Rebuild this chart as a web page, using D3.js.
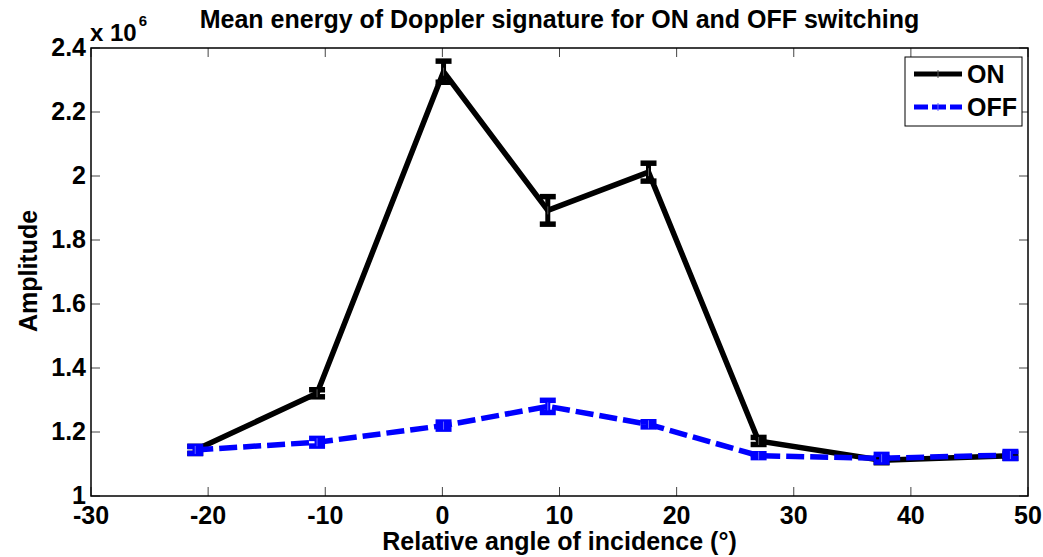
<!DOCTYPE html>
<html>
<head>
<meta charset="utf-8">
<script src="https://cdn.jsdelivr.net/npm/d3@7"></script>
<style>
  body { margin: 0; background: #fff; }
  svg text { font-family: "Liberation Sans", Arial, sans-serif; font-weight: bold; fill: #000; }
</style>
</head>
<body>
<svg id="chart" width="1043" height="557"></svg>
<script>
// ---- data ----
const angles = [-21.1, -10.7, 0.1, 9.0, 17.6, 27.0, 37.5, 48.5];
const onMean = [1.144, 1.321, 2.326, 1.8925, 2.012, 1.172, 1.112, 1.126];
const onErr  = [0.011, 0.011, 0.033, 0.043, 0.028, 0.011, 0.008, 0.008];
const offMean = [1.144, 1.168, 1.220, 1.280, 1.224, 1.126, 1.118, 1.128];
const offErr  = [0.011, 0.012, 0.011, 0.019, 0.008, 0.006, 0.012, 0.011];
const xTicks = [-30, -20, -10, 0, 10, 20, 30, 40, 50];
const yTicks = [1, 1.2, 1.4, 1.6, 1.8, 2, 2.2, 2.4];
const seriesNames = ["ON", "OFF"];
const titleText = "Mean energy of Doppler signature for ON and OFF switching";
const xLabelText = "Relative angle of incidence (°)";
const yLabelText = "Amplitude";

// ---- layout ----
const svg = d3.select("#chart");
const L = 91, R = 1028, T = 48, B = 496;
const x = d3.scaleLinear().domain([-30, 50]).range([L, R]);
const y = d3.scaleLinear().domain([1, 2.4]).range([B, T]);
const fs = 25;

// ticks (inner, all four sides)
const tickLen = 9;
const g = svg.append("g");
xTicks.forEach(t => {
  g.append("line").attr("x1", x(t)).attr("x2", x(t)).attr("y1", B).attr("y2", B - tickLen)
    .attr("stroke", "#444").attr("stroke-width", 1);
  g.append("line").attr("x1", x(t)).attr("x2", x(t)).attr("y1", T).attr("y2", T + tickLen)
    .attr("stroke", "#444").attr("stroke-width", 1);
  g.append("text").attr("x", x(t)).attr("y", 524).attr("text-anchor", "middle")
    .attr("font-size", fs).text(t);
});
yTicks.forEach(t => {
  g.append("line").attr("x1", L).attr("x2", L + tickLen).attr("y1", y(t)).attr("y2", y(t))
    .attr("stroke", "#444").attr("stroke-width", 1);
  g.append("line").attr("x1", R).attr("x2", R - tickLen).attr("y1", y(t)).attr("y2", y(t))
    .attr("stroke", "#444").attr("stroke-width", 1);
  g.append("text").attr("x", 86).attr("y", y(t) + 8).attr("text-anchor", "end")
    .attr("font-size", fs).text(d3.format("")(t));
});

// box
svg.append("rect").attr("x", L).attr("y", T).attr("width", R - L).attr("height", B - T)
  .attr("fill", "none").attr("stroke", "#000").attr("stroke-width", 1.5);

// exponent
const ex = svg.append("text").attr("x", 90).attr("y", 41).attr("font-size", 24);
ex.append("tspan").text("x 10");
ex.append("tspan").attr("dy", -15).attr("dx", 2).attr("font-size", 15).text("6");

// series
function drawSeries(means, errs, color, dash) {
  const pts = angles.map((a, i) => [a, means[i], errs[i]]);
  const line = d3.line().x(d => x(d[0])).y(d => y(d[1]));
  svg.append("path").datum(pts).attr("d", line).attr("fill", "none")
    .attr("stroke", color).attr("stroke-width", 5.5)
    .attr("stroke-linejoin", "round")
    .attr("stroke-dasharray", dash || null);
  const cap = 8;
  const eg = svg.append("g");
  pts.forEach(d => {
    const cx = x(d[0]), y1 = y(d[1] + d[2]), y0 = y(d[1] - d[2]);
    eg.append("line").attr("x1", cx).attr("x2", cx).attr("y1", y1).attr("y2", y0)
      .attr("stroke", color).attr("stroke-width", 5);
    [y1, y0].forEach(yy => {
      eg.append("line").attr("x1", cx - cap).attr("x2", cx + cap).attr("y1", yy).attr("y2", yy)
        .attr("stroke", color).attr("stroke-width", 5.5);
    });
    eg.append("line").attr("x1", cx).attr("x2", cx).attr("y1", y(d[1]) - 4).attr("y2", y(d[1]) + 4)
      .attr("stroke", color === "#000" ? "#555" : "#66f").attr("stroke-width", 1);
  });
}
drawSeries(onMean, onErr, "#000", null);
drawSeries(offMean, offErr, "#0000ff", "18,6");

// legend
const lg = svg.append("g");
lg.append("rect").attr("x", 905).attr("y", 57).attr("width", 117).attr("height", 69)
  .attr("fill", "#fff").attr("stroke", "#000").attr("stroke-width", 1);
const colors = ["#000", "#0000ff"];
const dashes = [null, "14,4"];
seriesNames.forEach((n, i) => {
  const ly = 74 + i * 33;
  lg.append("line").attr("x1", 914).attr("x2", 962).attr("y1", ly).attr("y2", ly)
    .attr("stroke", colors[i]).attr("stroke-width", 5).attr("stroke-dasharray", dashes[i]);
  lg.append("line").attr("x1", 938).attr("x2", 938).attr("y1", ly - 4).attr("y2", ly + 4)
    .attr("stroke", i === 0 ? "#555" : "#66f").attr("stroke-width", 1);
  lg.append("text").attr("x", 967).attr("y", ly + 9).attr("font-size", fs).text(n);
});

// title and labels
svg.append("text").attr("x", (L + R) / 2).attr("y", 28).attr("text-anchor", "middle")
  .attr("font-size", 25).text(titleText);
svg.append("text").attr("x", (L + R) / 2).attr("y", 550).attr("text-anchor", "middle")
  .attr("font-size", fs).text(xLabelText);
svg.append("text").attr("transform", "translate(37," + 271 + ") rotate(-90)")
  .attr("text-anchor", "middle").attr("font-size", fs).text(yLabelText);
</script>
</body>
</html>
